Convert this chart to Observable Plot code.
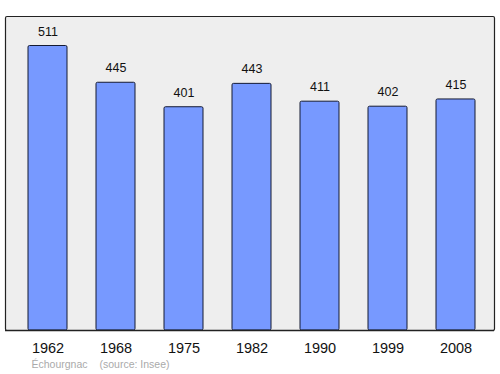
<!DOCTYPE html>
<html>
<head>
<meta charset="utf-8">
<script src="https://cdn.jsdelivr.net/npm/d3@7"></script>
<script src="https://cdn.jsdelivr.net/npm/@observablehq/plot@0.6"></script>
<style>
  html, body { margin: 0; padding: 0; background: #fff; }
  svg { display: block; }
</style>
</head>
<body>
<div id="chart"></div>
<script>
const years = ["1962", "1968", "1975", "1982", "1990", "1999", "2008"];
const population = [511, 445, 401, 443, 411, 402, 415];
const placeName = ["Échourgnac"];
const sourceNote = ["(source: Insee)"];

const data = years.map((y, i) => ({year: y, pop: population[i]}));

const chart = Plot.plot({
  width: 500,
  height: 374,
  marginLeft: 5,
  marginRight: 6,
  marginTop: 16,
  marginBottom: 44,
  style: {fontFamily: "'Liberation Sans', Arial, sans-serif", background: "#fff"},
  x: {type: "band", domain: years, range: [26.5, 475.8], paddingInner: 0.43, paddingOuter: 0},
  y: {domain: [0, 564]},
  marks: [
    Plot.frame({fill: "#eeeeee", stroke: "none"}),
    Plot.barY(data, {x: "year", y: "pop", fill: "#7799ff", stroke: "#141a33", strokeWidth: 1, rx: 1.5}),
    Plot.text(data, {x: "year", y: "pop", text: d => String(d.pop), dy: -14.5, fontSize: 12.5, fill: "#111"}),
    Plot.frame({stroke: "#222", strokeWidth: 1.2, rx: 1.5}),
    Plot.ruleY([0], {stroke: "#222", strokeWidth: 1.5}),
    Plot.axisX({tickSize: 0, tickPadding: 12, fontSize: 14.5, label: null, fill: "#111"}),
    Plot.axisY({ticks: [], label: null}),
    Plot.text(placeName, {frameAnchor: "bottom-left", text: d => d, dx: 26, dy: 37, fontSize: 10.5, fill: "#aaaaaa", textAnchor: "start"}),
    Plot.text(sourceNote, {frameAnchor: "bottom-left", text: d => d, dx: 94, dy: 37, fontSize: 10.5, fill: "#aaaaaa", textAnchor: "start"})
  ]
});
document.getElementById("chart").appendChild(chart);
</script>
</body>
</html>
